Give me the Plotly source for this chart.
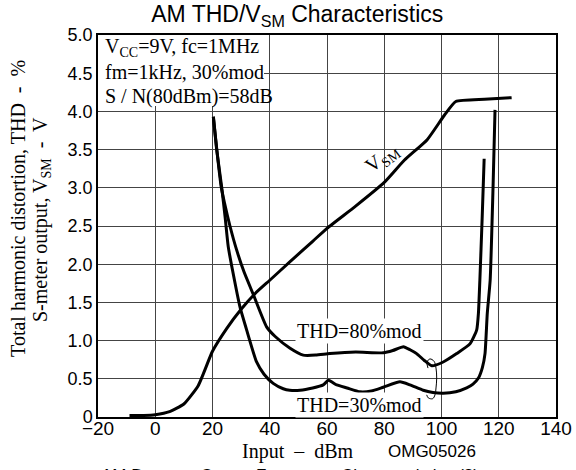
import plotly.graph_objects as go

# ---- data ----
vsm_x = [-9, -4, 0, 5, 10, 15, 20, 25, 30, 35, 40, 47, 55, 60, 70, 80, 87, 95, 101, 105, 115, 124.5]
vsm_y = [0.02, 0.02, 0.03, 0.07, 0.17, 0.41, 0.86, 1.16, 1.41, 1.62, 1.79, 2.03, 2.30, 2.47, 2.76, 3.07, 3.36, 3.63, 3.95, 4.13, 4.16, 4.18]

thd30_x = [20.3, 21.5, 23.2, 24.4, 25.5, 27.0, 29.6, 32.0, 35.4, 38.0, 41.2, 44.7, 47.0, 50.6, 55.0, 58.7,
           60.5, 63.4, 67.0, 71.5, 75.5, 79.7, 85.5, 89.0, 93.6, 97.0, 100.6, 105.0, 108.8, 111.0, 112.9,
           114.3, 115.2, 116.0, 117.0, 118.0, 118.7]
thd30_y = [3.93, 3.49, 3.01, 2.62, 2.23, 1.92, 1.44, 1.13, 0.72, 0.56, 0.44, 0.37, 0.35, 0.35, 0.38, 0.42,
           0.48, 0.42, 0.38, 0.33, 0.34, 0.39, 0.46, 0.42, 0.35, 0.32, 0.31, 0.33, 0.38, 0.43, 0.51,
           0.65, 0.83, 1.36, 1.79, 3.00, 4.02]

thd80_x = [20.3, 21.5, 23.0, 24.2, 26.1, 28.4, 31.0, 34.3, 38.9, 42.0, 47.1, 51.7, 56.0, 61.0, 70.0, 79.7,
           83.0, 86.7, 89.0, 91.3, 94.0, 96.6, 100.6, 105.3, 110.0, 112.3, 112.9, 113.4, 114.2, 114.9]
thd80_y = [3.93, 3.50, 3.02, 2.80, 2.50, 2.19, 1.90, 1.60, 1.18, 1.05, 0.90, 0.81, 0.81, 0.83, 0.85, 0.84,
           0.87, 0.92, 0.88, 0.83, 0.74, 0.67, 0.72, 0.83, 0.96, 1.14, 1.36, 1.79, 2.60, 3.38]

# loop marker tying the two THD labels together
loop_x = [95.28, 94.94, 95.98, 97.38, 98.08, 98.32, 98.08, 97.73, 96.93, 95.39, 94.83]
loop_y = [0.64, 0.72, 0.76, 0.73, 0.64, 0.51, 0.38, 0.29, 0.24, 0.25, 0.29]

x_ticks = [-20, 0, 20, 40, 60, 80, 100, 120, 140]
y_ticks = [0, 0.5, 1.0, 1.5, 2.0, 2.5, 3.0, 3.5, 4.0, 4.5, 5.0]
y_ticktext = ["0", "0.5", "1.0", "1.5", "2.0", "2.5", "3.0", "3.5", "4.0", "4.5", "5.0"]

SERIF = "Liberation Serif"
SANS = "Liberation Sans"

fig = go.Figure()
line_style = dict(color="black", width=3, shape="spline", smoothing=0.5)
fig.add_trace(go.Scatter(x=vsm_x, y=vsm_y, mode="lines", line=line_style, hoverinfo="skip"))
fig.add_trace(go.Scatter(x=thd80_x, y=thd80_y, mode="lines", line=line_style, hoverinfo="skip"))
fig.add_trace(go.Scatter(x=thd30_x, y=thd30_y, mode="lines", line=line_style, hoverinfo="skip"))
fig.add_trace(go.Scatter(x=loop_x, y=loop_y, mode="lines",
                         line=dict(color="black", width=1, shape="spline", smoothing=1.0), hoverinfo="skip"))

fig.update_layout(
    width=576, height=470,
    margin=dict(l=98, r=20, t=35, b=53, autoexpand=False),
    paper_bgcolor="white", plot_bgcolor="white",
    showlegend=False,
    title=dict(text="AM THD/V<sub>SM</sub> Characteristics", x=0.516, xanchor="center",
               y=0.970, yanchor="middle", xref="container", yref="container",
               font=dict(family=SANS, size=23, color="black")),
    xaxis=dict(range=[-20, 140], tickvals=x_ticks, showgrid=True, gridcolor="#444", gridwidth=1,
               zeroline=False, showline=True, linecolor="black", linewidth=1.5, mirror=True,
               automargin=False, ticks="", ticklabelstandoff=-7,
               tickfont=dict(family=SANS, size=19, color="black")),
    yaxis=dict(range=[0, 5], tickvals=y_ticks, ticktext=y_ticktext, showgrid=True, gridcolor="#444",
               gridwidth=1, zeroline=False, showline=True, linecolor="black", linewidth=1.5, mirror=True,
               automargin=False, ticks="", tickfont=dict(family=SANS, size=18, color="black")),
)

# white area behind the condition text (covers the grid)
fig.add_shape(type="rect", xref="x", yref="y", x0=-20, x1=38, y0=4.07, y1=5.0,
              fillcolor="white", line=dict(width=0), layer="between")

cond_lines = ["V<sub>CC</sub>=9V, fc=1MHz", "fm=1kHz, 30%mod", "S / N(80dBm)=58dB"]
cond_y = [0.966, 0.903, 0.838]
for t, yy in zip(cond_lines, cond_y):
    fig.add_annotation(text=t, xref="paper", yref="paper", x=0.012, y=yy, xanchor="left",
                       yanchor="middle", showarrow=False, font=dict(family=SERIF, size=20, color="black"))

fig.add_annotation(text="THD=80%mod", x=71.2, y=1.13, xref="x", yref="y", showarrow=False,
                   bgcolor="white", font=dict(family=SERIF, size=20, color="black"))
fig.add_annotation(text="THD=30%mod", x=71.2, y=0.16, xref="x", yref="y", showarrow=False,
                   bgcolor="white", font=dict(family=SERIF, size=20, color="black"))
fig.add_annotation(text="V<sub>SM</sub>", x=79.3, y=3.38, xref="x", yref="y", showarrow=False,
                   textangle=-37, font=dict(family=SERIF, size=20, color="black"))

# y-axis title (two lines)
fig.add_annotation(text="Total harmonic distortion, THD  -  %", xref="paper", yref="paper",
                   x=-0.175, y=0.547, xanchor="center", yanchor="middle", textangle=-90,
                   showarrow=False, font=dict(family=SERIF, size=20, color="black"))
fig.add_annotation(text="S-meter output, V<sub>SM</sub>  -  V", xref="paper", yref="paper",
                   x=-0.122, y=0.516, xanchor="center", yanchor="middle", textangle=-90,
                   showarrow=False, font=dict(family=SERIF, size=20, color="black"))

# x-axis title and code
fig.add_annotation(text="Input  \u2013  dBm", xref="paper", yref="paper", x=0.437, y=-0.0916,
                   xanchor="center", yanchor="middle", showarrow=False,
                   font=dict(family=SERIF, size=20, color="black"))
fig.add_annotation(text="OMG05026", xref="paper", yref="paper", x=0.729, y=-0.0916,
                   xanchor="center", yanchor="middle", showarrow=False,
                   font=dict(family=SANS, size=17, color="black"))
# caption cut off at the bottom edge
fig.add_annotation(text="AM Detector Output Frequency Characteristics (2)", xref="paper", yref="paper",
                   x=0.419, y=-0.123, xanchor="center", yanchor="top", showarrow=False,
                   font=dict(family=SANS, size=17, color="black"))

fig.write_html("out.html", config={"displayModeBar": False},
               post_script="document.body.style.margin='0px';")
